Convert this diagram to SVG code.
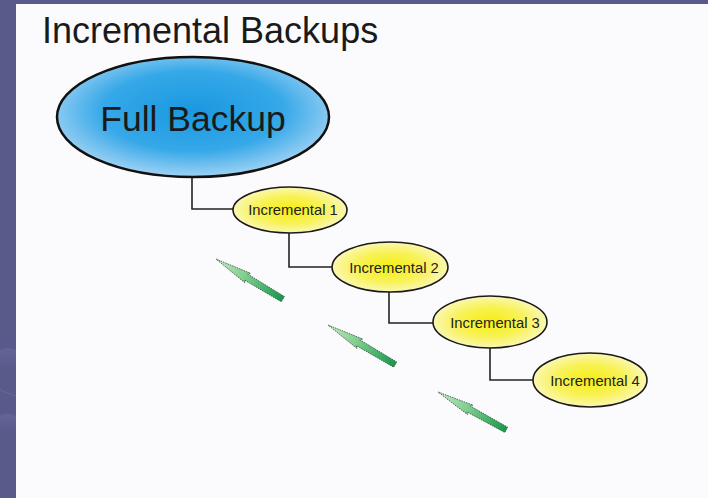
<svg xmlns="http://www.w3.org/2000/svg" width="708" height="498" viewBox="0 0 708 498">
<defs>
<radialGradient id="blueG" cx="0.5" cy="0.45" r="0.55">
<stop offset="0" stop-color="#1a98e0"/>
<stop offset="0.6" stop-color="#35a8e8"/>
<stop offset="1" stop-color="#9fd2f4"/>
</radialGradient>
<radialGradient id="yelG" cx="0.5" cy="0.5" r="0.55">
<stop offset="0" stop-color="#f5ee10"/>
<stop offset="0.55" stop-color="#f8f25a"/>
<stop offset="1" stop-color="#fbf9c8"/>
</radialGradient>
<linearGradient id="arrG" x1="0" y1="0" x2="78" y2="0" gradientUnits="userSpaceOnUse">
<stop offset="0" stop-color="#c6e8c6"/>
<stop offset="0.45" stop-color="#7ccc8c"/>
<stop offset="1" stop-color="#16984a"/>
</linearGradient>
<linearGradient id="sw" x1="0" y1="0" x2="0" y2="1">
<stop offset="0" stop-color="#6a6ca2"/>
<stop offset="1" stop-color="#585a8a"/>
</linearGradient>
<path id="arrow" d="M0,0 L37,-5.5 L35,-3.4 L78,-3 L78,3 L35,3.4 L37,5.5 Z"/>
</defs>
<style>
.ell{stroke:#1a1a1a;stroke-width:1.6}
.lbl{font-family:"Liberation Sans",Arial,sans-serif;font-size:14.8px;fill:#222;text-anchor:middle}
.conn{fill:none;stroke:#222;stroke-width:1.6}
.arr{fill:url(#arrG);stroke:#3a5a44;stroke-width:0.8;stroke-dasharray:1.5 1}
</style>
<rect x="0" y="0" width="708" height="498" fill="#585a8a"/>
<path d="M0,350 Q8,346 16,350 L16,370 L0,368 Z" fill="url(#sw)" opacity="0.6"/>
<path d="M0,415 Q8,412 16,416 L16,434 L0,432 Z" fill="url(#sw)" opacity="0.6"/>
<path d="M0,390 L16,396" stroke="#666898" stroke-width="1" fill="none"/>
<rect x="16" y="4" width="692" height="494" fill="#fbfbfd"/>
<text x="42" y="43" font-family="'Liberation Sans',Arial,sans-serif" font-size="36" fill="#1a1a1a">Incremental Backups</text>
<g id="connectors">
<path class="conn" d="M192,177 V209 H233"/>
<path class="conn" d="M289,233 V267 H333"/>
<path class="conn" d="M389,292 V323 H433"/>
<path class="conn" d="M490,348 V380 H533"/>
</g>
<g id="full-backup">
<ellipse cx="193" cy="117" rx="136" ry="60" fill="url(#blueG)" stroke="#111" stroke-width="2.5"/>
<text x="193" y="131" font-family="'Liberation Sans',Arial,sans-serif" font-size="35.5" fill="#1a1a1a" text-anchor="middle">Full Backup</text>
</g>
<g id="incremental-1">
<ellipse class="ell" cx="290" cy="210" rx="57" ry="23" fill="url(#yelG)"/>
<text class="lbl" x="293" y="215">Incremental 1</text>
</g>
<g id="incremental-2">
<ellipse class="ell" cx="390" cy="267" rx="58" ry="25" fill="url(#yelG)"/>
<text class="lbl" x="394" y="273">Incremental 2</text>
</g>
<g id="incremental-3">
<ellipse class="ell" cx="490" cy="322" rx="57" ry="26" fill="url(#yelG)"/>
<text class="lbl" x="495" y="328">Incremental 3</text>
</g>
<g id="incremental-4">
<ellipse class="ell" cx="590" cy="380" rx="57" ry="27" fill="url(#yelG)"/>
<text class="lbl" x="595" y="386">Incremental 4</text>
</g>
<g id="arrows">
<use href="#arrow" class="arr" transform="translate(216,259) rotate(31)"/>
<use href="#arrow" class="arr" transform="translate(328,325) rotate(30.5)"/>
<use href="#arrow" class="arr" transform="translate(438,392) rotate(29)"/>
</g>
</svg>
